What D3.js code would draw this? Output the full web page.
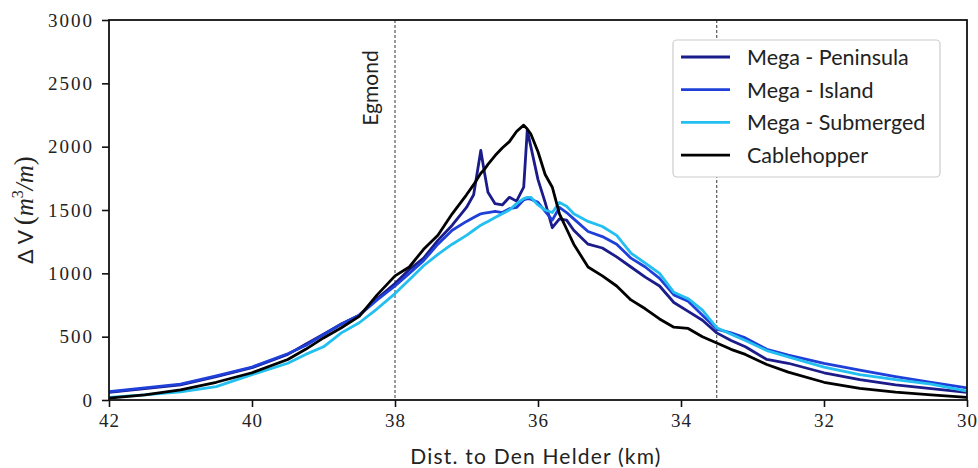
<!DOCTYPE html>
<html>
<head>
<meta charset="utf-8">
<script src="https://cdn.jsdelivr.net/npm/d3@7"></script>
<style>
  body { margin: 0; background: #fff; }
  .tick text { font-family: "Liberation Serif", serif; font-size: 19px; letter-spacing: 2px; fill: #222; }
  .xax .tick text { letter-spacing: 1px; }
  .lbl { font-family: Lato, "Open Sans", sans-serif; font-size: 21px; fill: #222; }
  .leg { font-family: Lato, "Open Sans", sans-serif; font-size: 21.5px; fill: #222; }
</style>
</head>
<body>
<svg id="chart" width="978" height="468"></svg>
<script>
// distance to Den Helder (km), shared by all series
const km = [42, 41.5, 41, 40.5, 40, 39.5, 39.25, 39, 38.75, 38.5, 38.25, 38,
  37.8, 37.6, 37.4, 37.2, 37.0, 36.9, 36.8, 36.75, 36.7, 36.6, 36.5, 36.4, 36.3,
  36.2, 36.15, 36.1, 36.0, 35.9, 35.8, 35.7, 35.6, 35.5, 35.3, 35.1, 34.9, 34.7,
  34.5, 34.3, 34.1, 33.9, 33.7, 33.5, 33.3, 33.1, 32.8, 32.5, 32.0, 31.5, 31.0, 30.5, 30.0];

const peninsula = [60, 90, 120, 185, 255, 360, 440, 520, 600, 670, 800, 920,
  1030, 1120, 1260, 1380, 1520, 1620, 1970, 1800, 1640, 1550, 1540, 1600, 1570,
  1680, 2130, 2000, 1740, 1560, 1360, 1430, 1420, 1340, 1230, 1200, 1130, 1050,
  970, 900, 770, 700, 630, 530, 470, 420, 320, 290, 215, 160, 120, 90, 60];

const island = [65, 95, 125, 190, 260, 365, 430, 515, 600, 670, 790, 900,
  1000, 1100, 1230, 1340, 1410, 1440, 1470, 1475, 1480, 1490, 1480, 1510, 1520,
  1580, 1590, 1585, 1560, 1490, 1420, 1520, 1480, 1430, 1330, 1290, 1230, 1120,
  1050, 960, 830, 780, 670, 560, 530, 490, 400, 355, 290, 235, 185, 140, 95];

const submerged = [20, 40, 65, 105, 200, 290, 360, 420, 530, 610, 720, 840,
  950, 1060, 1150, 1230, 1300, 1340, 1380, 1395, 1410, 1440, 1470, 1500, 1550,
  1590, 1600, 1600, 1540, 1500, 1480, 1560, 1530, 1470, 1410, 1370, 1300, 1160,
  1080, 1000, 850, 800, 710, 570, 520, 470, 390, 340, 260, 200, 160, 125, 70];

const cablehopper = [15, 40, 80, 140, 215, 320, 400, 490, 570, 660, 830, 980,
  1050, 1190, 1300, 1470, 1620, 1700, 1790, 1820, 1860, 1930, 1990, 2040, 2120,
  2170, 2140, 2100, 1960, 1780, 1680, 1470, 1350, 1230, 1050, 980, 900, 790,
  720, 640, 575, 565, 500, 450, 400, 360, 280, 220, 140, 92, 62, 40, 20];

const seriesNames = ["Mega - Peninsula", "Mega - Island", "Mega - Submerged", "Cablehopper"];
const seriesValues = [peninsula, island, submerged, cablehopper];
const seriesColors = ["#1b1b8a", "#1e3fd8", "#22bff0", "#000000"];

const xTicks = [42, 40, 38, 36, 34, 32, 30];
const yTicks = [0, 500, 1000, 1500, 2000, 2500, 3000];
const markers = [{km: 38, label: "Egmond"}, {km: 33.5, label: ""}];

const svg = d3.select("#chart");
const mLeft = 109, mRight = 967, mTop = 20, mBottom = 400;

let x = d3.scaleLinear().domain([42, 30]).range([mLeft, mRight]);
let y = d3.scaleLinear().domain([0, 3000]).range([mBottom, mTop]);

// dashed reference lines
markers.forEach(m => {
  svg.append("line")
    .attr("x1", x(m.km)).attr("x2", x(m.km))
    .attr("y1", mTop).attr("y2", mBottom)
    .attr("stroke", "#333").attr("stroke-width", 1)
    .attr("stroke-dasharray", "3,2");
  if (m.label) {
    svg.append("text")
      .attr("class", "lbl")
      .attr("transform", `translate(${x(m.km) - 26},88) rotate(-90)`)
      .attr("text-anchor", "middle")
      .attr("dominant-baseline", "central")
      .text(m.label);
  }
});

// the curves
let line = d3.line()
  .x((d, i) => x(km[i]))
  .y(d => y(d));

svg.append("g").selectAll("path")
  .data(seriesValues)
  .enter()
  .append("path")
  .attr("d", d => line(d))
  .attr("fill", "none")
  .attr("stroke", (d, i) => seriesColors[i])
  .attr("stroke-width", 2.8)
  .attr("stroke-linejoin", "round");

// frame
svg.append("rect")
  .attr("x", mLeft).attr("y", mTop)
  .attr("width", mRight - mLeft).attr("height", mBottom - mTop)
  .attr("fill", "none").attr("stroke", "#111").attr("stroke-width", 1.8);

// axes
let xAxis = d3.axisBottom(x).tickValues(xTicks).tickSize(7).tickPadding(7).tickFormat(d3.format("d"));
svg.append("g")
  .attr("class", "xax")
  .attr("transform", `translate(0,${mBottom})`)
  .call(xAxis)
  .call(g => g.select(".domain").remove())
  .call(g => g.selectAll(".tick line").attr("stroke", "#111").attr("stroke-width", 1.6));

let yAxis = d3.axisLeft(y).tickValues(yTicks).tickSize(7).tickPadding(8).tickFormat(d3.format("d"));
svg.append("g")
  .attr("transform", `translate(${mLeft},0)`)
  .call(yAxis)
  .call(g => g.select(".domain").remove())
  .call(g => g.selectAll(".tick line").attr("stroke", "#111").attr("stroke-width", 1.6));

// axis titles
svg.append("text")
  .attr("class", "lbl")
  .attr("x", 536).attr("y", 464)
  .attr("text-anchor", "middle")
  .attr("letter-spacing", 1.2)
  .text("Dist. to Den Helder (km)");

let yt = svg.append("text")
  .attr("class", "lbl")
  .attr("transform", "translate(33,210) rotate(-90)")
  .attr("text-anchor", "middle");
yt.append("tspan").text("Δ V ");
yt.append("tspan").attr("font-family", "Liberation Serif, serif").attr("font-size", 27).text("(");
yt.append("tspan").attr("font-family", "Liberation Serif, serif").attr("font-style", "italic").attr("font-size", 25).text("m");
yt.append("tspan").attr("font-family", "Liberation Serif, serif").attr("font-size", 16).attr("dy", -10).text("3");
yt.append("tspan").attr("font-family", "Liberation Serif, serif").attr("font-style", "italic").attr("font-size", 25).attr("dy", 10).text("/m");
yt.append("tspan").attr("font-family", "Liberation Serif, serif").attr("font-size", 27).text(")");

// legend
let legend = svg.append("g");
legend.append("rect")
  .attr("x", 673).attr("y", 40).attr("width", 267).attr("height", 137)
  .attr("rx", 4).attr("fill", "#fff").attr("stroke", "#ccc").attr("stroke-width", 1.2);

seriesNames.forEach((name, i) => {
  let ly = 57 + i * 32.7;
  legend.append("line")
    .attr("x1", 681).attr("x2", 730).attr("y1", ly).attr("y2", ly)
    .attr("stroke", seriesColors[i]).attr("stroke-width", 2.8);
  legend.append("text")
    .attr("class", "leg")
    .attr("x", 747).attr("y", ly)
    .attr("dominant-baseline", "central")
    .text(name);
});
</script>
</body>
</html>
